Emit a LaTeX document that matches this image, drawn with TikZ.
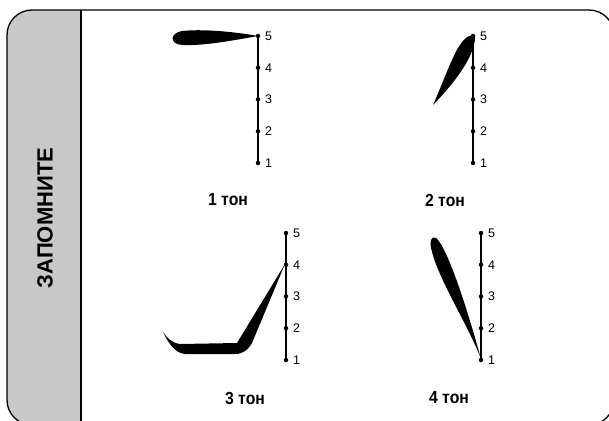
\documentclass[tikz,border=0pt]{standalone}
\usepackage{fontspec}
\setmainfont{Liberation Sans}
\usetikzlibrary{positioning}
\definecolor{panelgrey}{HTML}{C8C8C8}

\tikzset{
  frame/.style={draw=black, line width=1.3pt, rounded corners=25pt},
  tick/.style={circle, fill=black, inner sep=0pt, minimum size=4.5pt},
  ticklabel/.style={font=\fontsize{12.5}{12.5}\selectfont, inner sep=0pt},
  scaleline/.style={line width=1.3pt},
  tonename/.style={font=\fontsize{17.5}{17.5}\selectfont\bfseries, inner sep=0pt, xscale=0.9},
  contour/.style={fill=black, draw=none}
}

% scale: name, x, y of tick 5
\newcommand{\tonescale}[3]{%
  \foreach \k in {1,...,5} {
    \node[tick] (#1-\k) at (#2, {#3+(5-\k)*31.75}) {};
    \node[ticklabel, right=4.5pt of #1-\k] (#1-l\k) {\k};
  }
  \draw[scaleline] (#1-1.center) -- (#1-5.center);
}

\begin{document}
\begin{tikzpicture}[x=1pt, y=-1pt]
\useasboundingbox (0,0) rectangle (609,420);

% frame with grey side panel
\begin{scope}
  \clip (0,0) rectangle (609,420);
  \begin{scope}
    \clip[rounded corners=25pt] (7,10) rectangle (614,425);
    \fill[panelgrey] (7,10) rectangle (81,425);
  \end{scope}
  \draw[line width=1.3pt] (81,10) -- (81,425);
  \draw[frame] (7,10) rectangle (614,425);
\end{scope}

\node[rotate=90, font=\fontsize{22}{22}\selectfont\bfseries] (title) at (45,218) {ЗАПОМНИТЕ};

% scales
\tonescale{a}{258}{36}
\tonescale{b}{473}{36}
\tonescale{c}{286}{233}
\tonescale{d}{481}{233}

% tone contours
\fill[contour] (258,36) .. controls (230,31) and (200,29) .. (182,31)
  .. controls (170,33) and (169,44) .. (182,45)
  .. controls (205,46) and (235,40) .. (258,36) -- cycle;
\fill[contour] (475,37) .. controls (475,50) and (465,72) .. (433,105)
  .. controls (442,85) and (450,62) .. (458,48)
  .. controls (464,38) and (470,33) .. (475,37) -- cycle;
\fill[contour] (285,264) -- (237,343) -- (180,344)
  .. controls (172,343) and (167,338) .. (163,332)
  .. controls (168,342) and (174,353) .. (185,354) -- (235,354)
  .. controls (243,354) and (248,350) .. (252,343) -- cycle;
\fill[contour] (481,359) .. controls (468,325) and (440,282) .. (432,252)
  .. controls (429,242) and (431,235) .. (436,238)
  .. controls (445,245) and (462,290) .. (481,359) -- cycle;

% tone names
\node[tonename] (tone1) at (228,200) {1 тон};
\node[tonename] (tone2) at (445,200) {2 тон};
\node[tonename] (tone3) at (245,398) {3 тон};
\node[tonename] (tone4) at (449,398) {4 тон};
\end{tikzpicture}
\end{document}
